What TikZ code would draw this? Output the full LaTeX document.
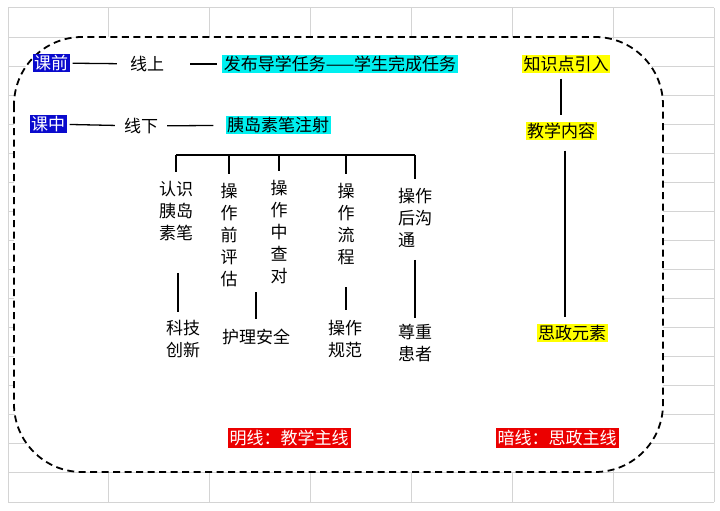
\documentclass[tikz,border=0pt]{standalone}
\usepackage{fontspec}
\setmainfont{Noto Sans CJK SC}
\usetikzlibrary{positioning}

\definecolor{stageblue}{RGB}{10,10,205}
\definecolor{taskcyan}{RGB}{0,240,240}
\definecolor{keyyellow}{RGB}{255,255,0}
\definecolor{linered}{RGB}{235,0,0}
\definecolor{gridgray}{RGB}{212,212,212}

\newcommand{\figfont}{\fontsize{17}{22}\selectfont}

\begin{document}
\begin{tikzpicture}[
    x=1pt, y=-1pt,
    font=\figfont,
    stage/.style={fill=stageblue, text=white, inner sep=1.5pt},
    task/.style={fill=taskcyan, inner sep=1.5pt},
    keybox/.style={fill=keyyellow, inner sep=1.5pt},
    mainline/.style={fill=linered, text=white, inner sep=2pt},
    plain/.style={inner sep=1pt},
    column/.style={align=center, inner sep=0pt},
    link/.style={line width=1.3pt},
    gridline/.style={draw=gridgray, line width=1pt},
    frame/.style={draw, fill=white, dash pattern=on 7pt off 4.5pt, line width=1.8pt, rounded corners=68pt}
]
\useasboundingbox (0,0) rectangle (720,511);

% Background grid
\foreach \i in {0,...,7}
    \draw[gridline] ({8+\i*100.86},8) -- ({8+\i*100.86},502);
\foreach \j in {0,...,17}
    \draw[gridline] (8,{8+\j*29.06}) -- (714,{8+\j*29.06});

% Frame
\path[frame] (14,37) rectangle (663,472);

% Stages
\node[stage] (kq) at (51,63) {课前};
\node[stage] (kz) at (48,124) {课中};
\node[plain] (xs) at (147,64) {线上};
\node[plain] (xx) at (141,126) {线下};
\node[task] (rw) at (340,64) {发布导学任务——学生完成任务};
\node[task] (yd) at (278,125) {胰岛素笔注射};

% Right column
\node[keybox] (zs) at (566,64) {知识点引入};
\node[keybox] (jx) at (561,131) {教学内容};
\node[keybox] (sz) at (572,333) {思政元素};

% Steps
\coordinate (bar) at (0,155);
\node[column] (c1) at (176,211) {认识\\胰岛\\素笔};
\node[column] (c2) at (229,235) {操\\作\\前\\评\\估};
\node[column] (c3) at (279,232) {操\\作\\中\\查\\对};
\node[column] (c4) at (346,224) {操\\作\\流\\程};
\node[column, align=left] (c5) at (415,218) {操作\\后沟\\通};

% Values
\node[column] (v1) at (183,339) {科技\\创新};
\node[column] (v2) at (256,337) {护理安全};
\node[column] (v3) at (345,339) {操作\\规范};
\node[column] (v4) at (415,343) {尊重\\患者};

% Main lines
\node[mainline] (ml) at (289,438) {明线：教学主线};
\node[mainline] (al) at (557,438) {暗线：思政主线};

% Connections
\draw[link, shorten <=3pt, shorten >=12pt] (kq) -- (xs);
\draw[link, shorten <=3pt, shorten >=8pt] (kz) -- (xx);
\draw[link, shorten <=25pt, shorten >=5pt] (xs) -- (rw);
\draw[link, shorten <=8pt, shorten >=12pt] (xx) -- (yd);
\draw[link, shorten <=5pt, shorten >=6pt] (jx.north |- zs.south) -- (jx.north);
\draw[link, shorten <=10pt, shorten >=6pt] ([xshift=4pt]jx.south) -- ([xshift=4pt]jx.south |- sz.north);

\draw[link] (c1.north |- bar) -- (c5.north |- bar);
\foreach \c in {c1,c2,c3,c4,c5}
    \draw[link, shorten >=9pt] (\c.north |- bar) -- (\c.north);

\draw[link, shorten <=32pt, shorten >=8pt] ([xshift=2pt]c1.south) -- ([xshift=2pt]c1.south |- v1.north);
\draw[link, shorten <=5pt, shorten >=10pt] (v2.north |- c2.south) -- (v2.north);
\draw[link, shorten <=22pt, shorten >=10pt] (c4.south) -- (c4.south |- v3.north);
\draw[link, shorten <=12pt, shorten >=6pt] (c5.south) -- (c5.south |- v4.north);

\end{tikzpicture}
\end{document}
